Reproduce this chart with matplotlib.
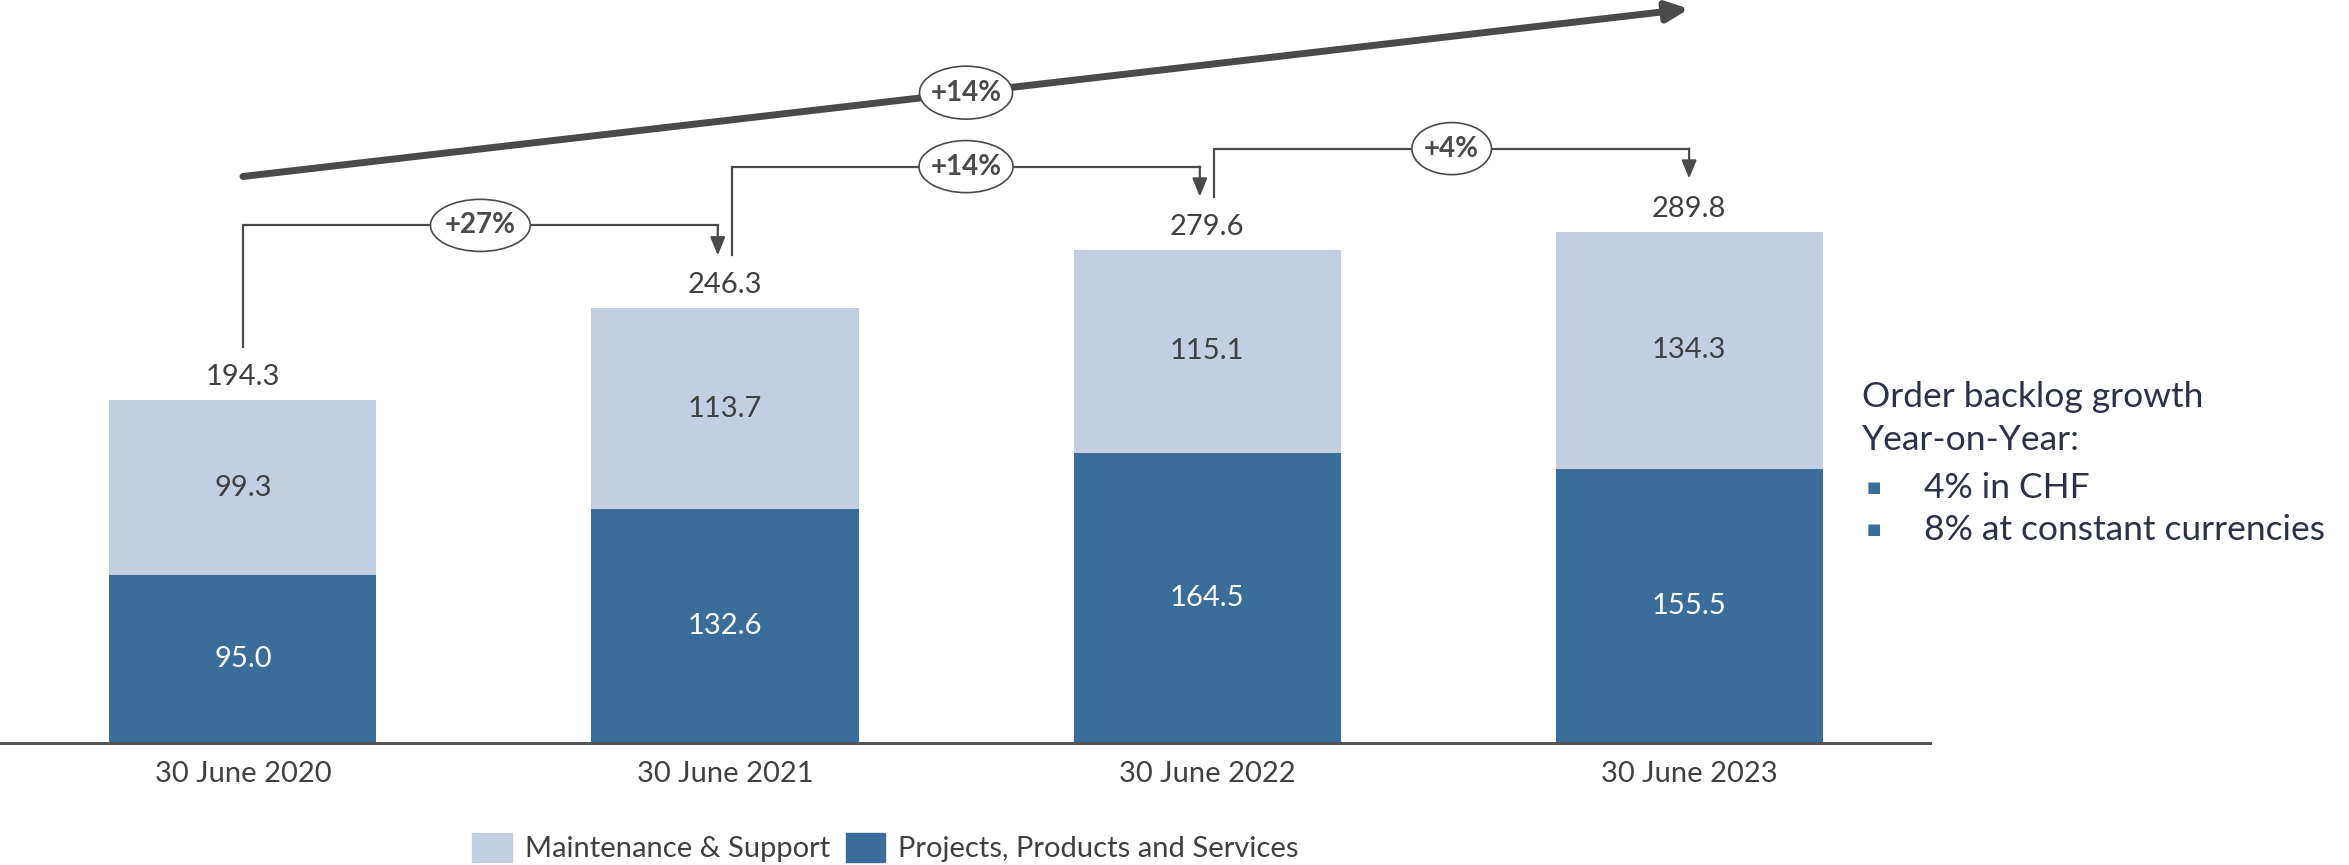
import matplotlib
matplotlib.use("Agg")
import matplotlib.pyplot as plt
from matplotlib.patches import Ellipse, Patch

plt.rcParams['font.family'] = ['Lato', 'DejaVu Sans']

# data
years = ['30 June 2020', '30 June 2021', '30 June 2022', '30 June 2023']
projects = [95.0, 132.6, 164.5, 155.5]
maintenance = [99.3, 113.7, 115.1, 134.3]
totals = [194.3, 246.3, 279.6, 289.8]
growth = ['+27%', '+14%', '+4%']
cagr = '+14%'
notes = ['Order backlog growth', 'Year-on-Year:']
bullets = ['4% in CHF', '8% at constant currencies']

light = '#c3cfe1'
dark = '#3b6d9a'
grey = '#4a4a4a'
txt = '#404040'
navy = '#2c3246'

fig = plt.figure(figsize=(23.49, 8.65), dpi=100)
ax = fig.add_axes([0, 0, 1, 1])
ax.set_xlim(-0.504, 4.369)
ax.set_ylim(-69.1, 421)
ax.axis('off')

x = range(len(years))
w = 0.554
ax.bar(x, projects, width=w, color=dark, zorder=2)
ax.bar(x, maintenance, width=w, bottom=projects, color=light, zorder=2)
ax.plot([-0.504, 3.5], [0, 0], color='#555555', lw=2.2, zorder=3)

fs = 21
for i in x:
    ax.text(i, projects[i] / 2, f'{projects[i]:.1f}', ha='center', va='center',
            color='white', fontsize=fs)
    ax.text(i, projects[i] + maintenance[i] / 2, f'{maintenance[i]:.1f}',
            ha='center', va='center', color=txt, fontsize=fs)
    ax.text(i, totals[i] + 13, f'{totals[i]:.1f}', ha='center', va='center',
            color=txt, fontsize=fs)
    ax.text(i, -17.8, years[i], ha='center', va='center', color=txt, fontsize=fs)

# year-on-year connectors
starts = [0.0, 1.015, 2.015]
ends = [0.985, 1.985, 3.0]
ell_w = [0.207, 0.195, 0.165]
for k in range(3):
    y0 = totals[k] + 30
    y1 = totals[k + 1] + 30
    lvl = totals[k + 1] + 47
    ax.plot([starts[k], starts[k], ends[k]], [y0, lvl, lvl], color=grey, lw=1.6,
            solid_joinstyle='miter', zorder=3)
    ax.annotate('', xy=(ends[k], y1), xytext=(ends[k], lvl),
                arrowprops=dict(arrowstyle='-|>,head_length=1.1,head_width=0.45',
                                color=grey, lw=1.6, shrinkA=0, shrinkB=0), zorder=3)
    xm = (starts[k] + ends[k]) / 2
    ax.add_patch(Ellipse((xm, lvl), ell_w[k], 29.5, facecolor='white',
                         edgecolor=grey, lw=1.2, zorder=4))
    ax.text(xm, lvl, growth[k], ha='center', va='center', color=grey,
            fontsize=20, fontweight='bold', zorder=5)

# overall trend arrow
ax.annotate('', xy=(3.0, 416), xytext=(0, 321),
            arrowprops=dict(arrowstyle='-|>,head_length=1.3,head_width=0.6',
                            color=grey, lw=5, shrinkA=0, shrinkB=0), zorder=3)
ax.add_patch(Ellipse((1.5, 368.5), 0.193, 30, facecolor='white',
                     edgecolor=grey, lw=1.2, zorder=4))
ax.text(1.5, 368.5, cagr, ha='center', va='center', color=grey,
        fontsize=20, fontweight='bold', zorder=5)

# side note
tx = 1862 / 2349
for j, s in enumerate(notes):
    fig.text(tx, 1 - (397 + 43 * j) / 865, s, ha='left', va='center',
             color=navy, fontsize=25.5)
for j, s in enumerate(bullets):
    yy = 1 - (488 + 42 * j) / 865
    fig.text(tx + 0.002, yy, '\u25a0', ha='left', va='center', color=dark, fontsize=11)
    fig.text(1924 / 2349, yy, s, ha='left', va='center', color=navy, fontsize=25.5)

handles = [Patch(color=light, label='Maintenance & Support'),
           Patch(color=dark, label='Projects, Products and Services')]
fig.legend(handles=handles, loc='center', bbox_to_anchor=(0.377, 0.02), ncol=2,
           frameon=False, fontsize=21, handlelength=1.35, handleheight=1.15,
           handletextpad=0.45, columnspacing=0.55, labelcolor=txt)

fig.savefig('out.png', dpi=100)
